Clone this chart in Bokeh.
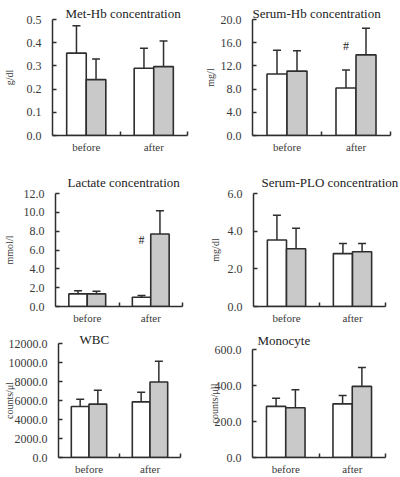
import math
from bokeh.plotting import figure
from bokeh.layouts import column, row
from bokeh.models import (Range1d, FixedTicker, PrintfTickFormatter, Whisker,
                          ColumnDataSource, Label, TeeHead, Title)
from bokeh.embed import file_html
from bokeh.resources import INLINE

groups = ["before", "after"]

# Met-Hb (g/dl)
methb_white = [0.355, 0.290]
methb_white_sd = [0.118, 0.086]
methb_gray = [0.241, 0.297]
methb_gray_sd = [0.089, 0.110]

# Serum-Hb (mg/l)
serhb_white = [10.6, 8.2]
serhb_white_sd = [4.1, 3.1]
serhb_gray = [11.1, 13.9]
serhb_gray_sd = [3.5, 4.6]

# Lactate (mmol/l)
lact_white = [1.34, 0.99]
lact_white_sd = [0.32, 0.17]
lact_gray = [1.34, 7.70]
lact_gray_sd = [0.28, 2.47]

# Serum-PLO (mg/dl)
plo_white = [3.53, 2.81]
plo_white_sd = [1.32, 0.54]
plo_gray = [3.07, 2.91]
plo_gray_sd = [1.08, 0.44]

# WBC (counts/ul)
wbc_white = [5370, 5860]
wbc_white_sd = [770, 1010]
wbc_gray = [5620, 7950]
wbc_gray_sd = [1460, 2170]

# Monocyte (counts/ul)
mono_white = [284, 298]
mono_white_sd = [45, 47]
mono_gray = [276, 395]
mono_gray_sd = [100, 105]

FONT = "Liberation Serif"
DARK = "#2e2e2e"
TXT = "#3a3a3a"
GRAY = "#c9c9c9"
BAR_W = 0.29


def panel(title, ylabel, white, white_sd, gray, gray_sd, ymax, ystep,
          fig_h, borders, title_offset, title_standoff, ylab_standoff,
          title_size="13px", sig=None):
    left, right, top, bottom = borders
    p = figure(width=200, height=fig_h, output_backend="svg",
               toolbar_location=None, x_range=Range1d(0, len(groups)),
               y_range=Range1d(0, ymax),
               min_border_left=left, min_border_right=right,
               min_border_top=top, min_border_bottom=bottom)
    p.title = Title(text=title, align="left", offset=title_offset,
                    standoff=title_standoff, text_font=FONT,
                    text_font_size=title_size, text_font_style="normal",
                    text_color="#222222")
    p.outline_line_color = None
    p.xgrid.visible = False
    p.ygrid.visible = False
    p.background_fill_color = "white"
    p.border_fill_color = "white"

    centers = [i + 0.5 for i in range(len(groups))]
    xw = [c - BAR_W / 2 for c in centers]
    xg = [c + BAR_W / 2 for c in centers]

    p.vbar(x=xw, top=white, width=BAR_W, bottom=0, fill_color="white",
           line_color=DARK, line_width=1.6)
    p.vbar(x=xg, top=gray, width=BAR_W, bottom=0, fill_color=GRAY,
           line_color=DARK, line_width=1.6)

    for xs, vals, sds in ((xw, white, white_sd), (xg, gray, gray_sd)):
        src = ColumnDataSource(dict(x=xs, lo=vals,
                                    hi=[v + s for v, s in zip(vals, sds)]))
        w = Whisker(base="x", lower="lo", upper="hi", source=src,
                    dimension="height", line_color=DARK, line_width=1.5,
                    upper_head=TeeHead(size=8, line_color=DARK, line_width=1.5),
                    lower_head=None, level="overlay")
        p.add_layout(w)

    # x axis
    xa = p.xaxis[0]
    xa.ticker = FixedTicker(ticks=centers,
                            minor_ticks=[float(i + 1) for i in range(len(groups))])
    xa.major_label_overrides = {c: g for c, g in zip(centers, groups)}
    xa.major_tick_line_color = None
    xa.major_tick_in = 0
    xa.major_tick_out = 0
    xa.minor_tick_in = 4
    xa.minor_tick_out = 0
    xa.minor_tick_line_color = DARK
    xa.minor_tick_line_width = 1.5
    xa.axis_line_color = DARK
    xa.axis_line_width = 1.5
    xa.major_label_text_font = FONT
    xa.major_label_text_font_size = "11px"
    xa.major_label_text_color = TXT
    xa.major_label_standoff = 5

    # y axis
    ya = p.yaxis[0]
    n = int(round(ymax / ystep))
    ya.ticker = FixedTicker(ticks=[i * ystep for i in range(n + 1)])
    ya.formatter = PrintfTickFormatter(format="%.1f")
    ya.major_tick_in = 4
    ya.major_tick_out = 0
    ya.minor_tick_line_color = None
    ya.minor_tick_in = 0
    ya.minor_tick_out = 0
    ya.major_tick_line_color = DARK
    ya.major_tick_line_width = 1.5
    ya.axis_line_color = DARK
    ya.axis_line_width = 1.5
    ya.major_label_text_font = FONT
    ya.major_label_text_font_size = "12px"
    ya.major_label_text_color = TXT
    ya.major_label_standoff = 11
    ya.axis_label = ylabel
    ya.axis_label_text_font = FONT
    ya.axis_label_text_font_size = "10px"
    ya.axis_label_text_font_style = "normal"
    ya.axis_label_text_color = TXT
    ya.axis_label_standoff = ylab_standoff

    if sig:
        gi, yv = sig
        p.add_layout(Label(x=xw[gi], y=yv, text="#", text_font=FONT,
                           text_font_size="12px", text_color="#222222",
                           text_align="center", text_baseline="middle"))
    return p


p1 = panel("Met-Hb concentration", "g/dl", methb_white, methb_white_sd,
           methb_gray, methb_gray_sd, 0.5, 0.1, 160, (52, 13, 19, 25),
           13, -3, 9)
p2 = panel("Serum-Hb concentration", "mg/l", serhb_white, serhb_white_sd,
           serhb_gray, serhb_gray_sd, 20.0, 4.0, 160, (52, 10, 19, 25),
           0, -2, 2, sig=(1, 15.5))
p3 = panel("Lactate concentration", "mmol/l", lact_white, lact_white_sd,
           lact_gray, lact_gray_sd, 12.0, 2.0, 168, (53, 18, 32, 22),
           12, 7, 6, sig=(1, 7.1))
p4 = panel("Serum-PLO concentration", "mg/dl", plo_white, plo_white_sd,
           plo_gray, plo_gray_sd, 6.0, 2.0, 168, (53, 15, 33, 21),
           8, 7, 4)
p5 = panel("WBC", "counts/\u03bcl", wbc_white, wbc_white_sd,
           wbc_gray, wbc_gray_sd, 12000.0, 2000.0, 149, (56, 20, 15, 20),
           21, -6, -9)
p6 = panel("Monocyte", "counts/\u03bcll", mono_white, mono_white_sd,
           mono_gray, mono_gray_sd, 600.0, 200.0, 149, (52, 15, 21, 18),
           5, 4, -8)

layout = column(row(p1, p2), row(p3, p4), row(column(p5), column(p6)))
open("out.html", "w").write(file_html(layout, INLINE))
